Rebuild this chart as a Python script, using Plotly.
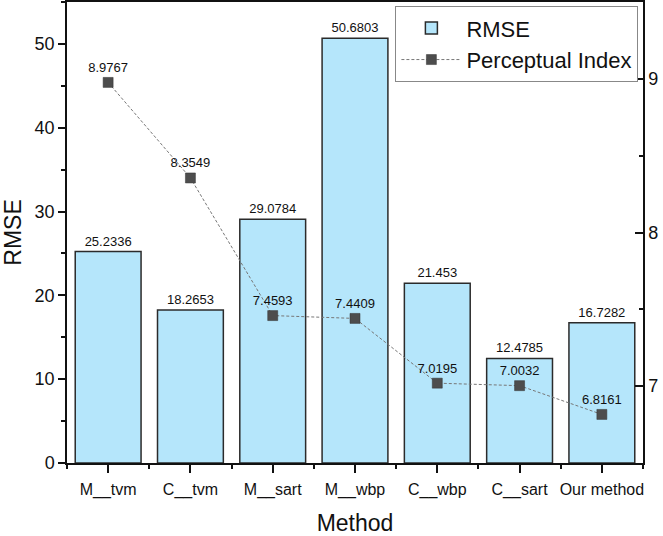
import plotly.graph_objects as go

methods = ["M__tvm", "C__tvm", "M__sart", "M__wbp", "C__wbp", "C__sart", "Our method"]
rmse = [25.2336, 18.2653, 29.0784, 50.6803, 21.453, 12.4785, 16.7282]
perceptual = [8.9767, 8.3549, 7.4593, 7.4409, 7.0195, 7.0032, 6.8161]
rmse_text = ["25.2336", "18.2653", "29.0784", "50.6803", "21.453", "12.4785", "16.7282"]
perc_text = ["8.9767", "8.3549", "7.4593", "7.4409", "7.0195", "7.0032", "6.8161"]

xpos = list(range(len(methods)))
FONT = "Liberation Sans, Arial, sans-serif"

fig = go.Figure()
fig.add_trace(go.Bar(
    x=xpos, y=rmse, name="RMSE", width=0.8,
    marker=dict(color="#b5e6fb", line=dict(color="#2b2b2b", width=1.5)),
    text=rmse_text, textposition="outside", cliponaxis=False,
    textfont=dict(size=13, color="#111", family=FONT),
))
fig.add_trace(go.Scatter(
    x=xpos, y=perceptual, name="Perceptual Index", yaxis="y2",
    mode="lines+markers+text",
    line=dict(color="#777777", width=1, dash="3px,2px"),
    marker=dict(symbol="square", size=10, color="#4d4d4d", line=dict(color="#333", width=0.5)),
    text=perc_text, textposition="top center", cliponaxis=False,
    textfont=dict(size=13, color="#111", family=FONT),
))

fig.update_layout(
    width=663, height=536,
    margin=dict(l=67, r=20, t=2, b=73, autoexpand=False),
    plot_bgcolor="white", paper_bgcolor="white",
    font=dict(family=FONT, color="#111"),
    showlegend=True,
    legend=dict(x=0.992, y=0.991, xanchor="right", yanchor="top",
                bordercolor="#888", borderwidth=1, bgcolor="white",
                itemwidth=60,
                font=dict(size=22, family=FONT), tracegroupgap=0),
    xaxis=dict(
        range=[-0.5, 6.5], tickmode="array", tickvals=xpos, ticktext=methods,
        ticks="outside", ticklen=8, tickwidth=1.5, tickcolor="#111",
        showline=True, linecolor="#111", linewidth=1.5, mirror=True,
        showgrid=False, zeroline=False, automargin=False,
        tickfont=dict(size=16, family=FONT), ticklabelstandoff=3,
        title=dict(text="Method", font=dict(size=23, family=FONT), standoff=20),
        minor=dict(tickmode="array", tickvals=[i - 0.5 for i in range(len(methods) + 1)],
                   ticks="outside", ticklen=4, tickwidth=1.5, tickcolor="#111"),
    ),
    yaxis=dict(
        range=[0, 55], dtick=10, ticks="outside", ticklen=7, tickwidth=1.5, tickcolor="#111",
        showline=True, linecolor="#111", linewidth=1.5,
        showgrid=False, zeroline=False, automargin=False,
        tickfont=dict(size=18, family=FONT),
        title=dict(text="RMSE", font=dict(size=23, family=FONT), standoff=8),
        minor=dict(dtick=5, ticks="outside", ticklen=4, tickwidth=1.5, tickcolor="#111"),
    ),
    yaxis2=dict(
        range=[6.5, 9.5], dtick=1, overlaying="y", side="right",
        ticks="inside", ticklen=8, tickwidth=1.5, tickcolor="#111",
        showline=True, linecolor="#111", linewidth=1.5,
        showgrid=False, zeroline=False, automargin=False,
        tickfont=dict(size=18, family=FONT),
        minor=dict(dtick=0.5, ticks="inside", ticklen=4, tickwidth=1.5, tickcolor="#111"),
    ),
)

fig.write_html("out.html", config={"displayModeBar": False},
               post_script="document.body.style.margin='0px';")
